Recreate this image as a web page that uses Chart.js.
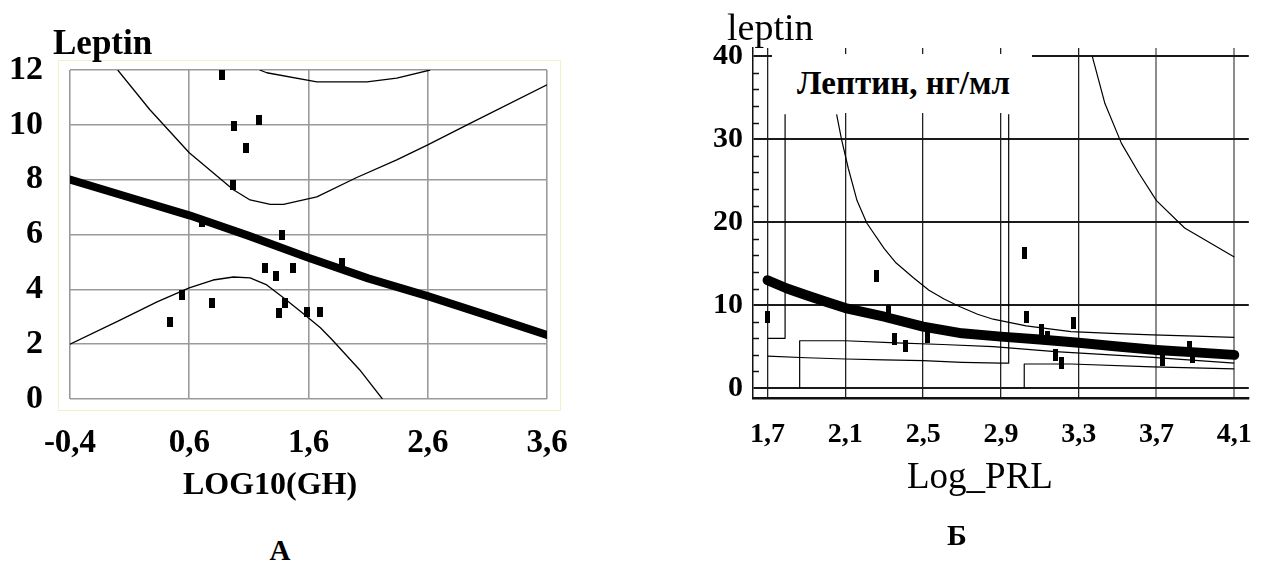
<!DOCTYPE html>
<html>
<head>
<meta charset="utf-8">
<script src="https://cdn.jsdelivr.net/npm/chart.js@4.4.1/dist/chart.umd.min.js"></script>
<style>
body{margin:0;background:#fff;width:1272px;height:562px;overflow:hidden;position:relative;font-family:"Liberation Serif",serif}
canvas{position:absolute;top:0}
#graficaA{left:0}
#graficaB{left:640px}
.txt{position:absolute;line-height:1;white-space:nowrap;color:#000}
.b{font-weight:bold}
#caja{position:absolute;left:772px;top:54px;width:260px;height:59px;background:#fff}
</style>
</head>
<body>
<canvas id="graficaA" width="620" height="520"></canvas>
<canvas id="graficaB" width="632" height="520"></canvas>

<div class="txt b" style="left:53px;top:25px;font-size:35px">Leptin</div>
<div class="txt b" style="left:120px;top:467px;width:300px;text-align:center;font-size:32px">LOG10(GH)</div>
<div class="txt b" style="left:230px;top:536px;width:100px;text-align:center;font-size:29px">А</div>

<div class="txt" style="left:727px;top:8px;font-size:38px">leptin</div>
<div id="caja"></div>
<div class="txt b" style="left:797px;top:67px;font-size:33px">Лептин, нг/мл</div>
<div class="txt" style="left:830px;top:457px;width:300px;text-align:center;font-size:37px">Log_PRL</div>
<div class="txt b" style="left:907px;top:520px;width:100px;text-align:center;font-size:30px">Б</div>

<script>
// ---- panel A: LOG10(GH) ----
var ejeXA = [-0.4, 0.6, 1.6, 2.6, 3.6];
var ejeYA = [0, 2, 4, 6, 8, 10, 12];
var ghX = [0.875, 0.975, 1.185, 1.076, 0.967, 0.707, 0.439, 0.539, 0.791, 1.235, 1.327, 1.378, 1.47, 1.353, 1.403, 1.587, 1.696, 1.881];
var ghLeptina = [11.82, 9.96, 10.18, 9.15, 7.8, 6.46, 2.81, 3.79, 3.5, 4.78, 4.49, 5.98, 4.78, 3.14, 3.5, 3.17, 3.17, 4.96];
var rectaAX = [-0.4, 0.1, 0.6, 1.1, 1.6, 2.1, 2.6, 3.1, 3.6];
var rectaAY = [8.0, 7.35, 6.7, 5.95, 5.15, 4.4, 3.75, 3.05, 2.34];
var superiorAX = [0.0, 0.27, 0.6, 0.97, 1.11, 1.28, 1.39, 1.67, 2.0, 2.34, 2.6, 2.93, 3.6];
var superiorAY = [12.0, 10.55, 8.98, 7.63, 7.26, 7.1, 7.1, 7.37, 8.07, 8.72, 9.27, 10.0, 11.46];
var techoAX = [1.19, 1.25, 1.67, 2.09, 2.34, 2.62];
var techoAY = [12.0, 11.9, 11.57, 11.57, 11.7, 12.0];
var inferiorAX = [-0.4, 0.02, 0.33, 0.6, 0.8, 0.97, 1.11, 1.25, 1.39, 1.55, 1.7, 1.8, 2.03, 2.22];
var inferiorAY = [2.0, 2.88, 3.54, 4.05, 4.34, 4.45, 4.42, 4.16, 3.69, 3.14, 2.6, 2.15, 1.06, 0];

// ---- panel Б: Log_PRL ----
var ejeXB = [1.7, 2.1, 2.5, 2.9, 3.3, 3.7, 4.1];
var ejeYB = [0, 10, 20, 30, 40];
var marcasYB = [2, 4, 6, 8, 12, 14, 16, 18, 22, 24, 26, 28, 32, 34, 36, 38];
var prlX = [1.70, 2.26, 2.32, 2.355, 2.41, 2.52, 3.02, 3.03, 3.11, 3.14, 3.18, 3.21, 3.275, 3.73, 3.87, 3.885];
var prlLeptina = [8.55, 13.5, 9.3, 5.9, 5.06, 6.1, 16.3, 8.6, 7.0, 6.2, 4.0, 3.0, 7.9, 3.4, 5.0, 3.8];
var rectaBX = [1.7, 1.8, 1.9, 2.0, 2.1, 2.3, 2.5, 2.7, 2.9, 3.1, 3.3, 3.5, 3.7, 3.9, 4.1];
var rectaBY = [13.0, 12.0, 11.2, 10.4, 9.65, 8.6, 7.4, 6.6, 6.2, 5.85, 5.45, 5.0, 4.6, 4.3, 4.0];
var curvaBX = [2.055, 2.08, 2.115, 2.16, 2.21, 2.3, 2.36, 2.45, 2.53, 2.61, 2.69, 2.78, 2.86, 3.03, 3.26, 3.5, 3.68, 3.9, 4.1];
var curvaBY = [33, 30, 26.5, 22.6, 19.9, 16.8, 15.1, 13.3, 11.8, 10.7, 9.8, 8.9, 8.3, 7.5, 6.8, 6.55, 6.4, 6.25, 6.1];
var esquinaBX = [3.37, 3.435, 3.52, 3.61, 3.7, 3.845, 4.1];
var esquinaBY = [40, 34.3, 29.5, 25.9, 22.6, 19.3, 15.8];
var escalon1X = [1.7, 1.79, 1.79];
var escalon1Y = [6.0, 6.0, 33];
var escalon2X = [1.7, 1.9, 2.1, 2.3, 2.5, 2.7, 2.9, 2.94, 2.94];
var escalon2Y = [3.85, 3.65, 3.5, 3.4, 3.3, 3.1, 3.0, 3.0, 33];
var escalon3X = [1.865, 1.865, 2.1, 2.36, 2.6, 2.86, 3.18, 3.68, 4.1];
var escalon3Y = [0, 5.7, 5.7, 5.45, 5.25, 5.0, 4.4, 3.7, 3.0];
var escalon4X = [3.02, 3.02, 3.26, 3.68, 4.1];
var escalon4Y = [0, 2.9, 2.9, 2.55, 2.3];


function puntos(xs, ys){
	return xs.map(function(x, i){ return {x: x, y: ys[i]}; });
}

function marca(w, h){
	var c = document.createElement('canvas');
	c.width = w; c.height = h;
	var g = c.getContext('2d');
	g.fillStyle = '#000';
	g.fillRect(0, 0, w, h);
	return c;
}

function coma(v){
	return String(v).replace('.', ',');
}

function linea(xs, ys, ancho){
	return {
		data: puntos(xs, ys),
		showLine: true,
		borderColor: '#000',
		borderWidth: ancho,
		pointRadius: 0,
		tension: 0,
		borderJoinStyle: 'round',
		borderCapStyle: ancho > 3 ? 'round' : 'butt'
	};
}

function fuente(tam){
	return {family: '"Liberation Serif", serif', size: tam, weight: 'bold'};
}

var marcoA = {
	id: 'marcoA',
	beforeDraw: function(chart){
		var ctx = chart.ctx;
		ctx.save();
		ctx.strokeStyle = '#f4f0c8';
		ctx.lineWidth = 1;
		ctx.strokeRect(58.5, 60.5, 502, 350);
		ctx.restore();
	}
};

var marcasB = {
	id: 'marcasB',
	afterDraw: function(chart){
		var ctx = chart.ctx;
		var y = chart.scales.y;
		var izq = chart.chartArea.left;
		ctx.save();
		ctx.strokeStyle = '#111';
		ctx.lineWidth = 1.5;
		marcasYB.forEach(function(v){
			var py = Math.round(y.getPixelForValue(v)) + 0.5;
			ctx.beginPath();
			ctx.moveTo(izq, py);
			ctx.lineTo(izq + 6, py);
			ctx.stroke();
		});
		ctx.restore();
	}
};

var graficaA = new Chart(document.getElementById('graficaA'), {
	type: 'scatter',
	data: {
		datasets: [
			{data: puntos(ghX, ghLeptina), pointStyle: marca(6, 10), pointRadius: 5, showLine: false},
			linea(rectaAX, rectaAY, 8),
			linea(superiorAX, superiorAY, 1.3),
			linea(techoAX, techoAY, 1.3),
			linea(inferiorAX, inferiorAY, 1.3)
		]
	},
	options: {
		animation: false,
		responsive: false,
		events: [],
		layout: {padding: {left: 0, top: 70, right: 73, bottom: 0}},
		plugins: {legend: {display: false}, tooltip: {enabled: false}},
		scales: {
			x: {
				type: 'linear', min: -0.4, max: 3.6,
				afterBuildTicks: function(s){ s.ticks = ejeXA.map(function(v){ return {value: v}; }); },
				afterFit: function(s){ s.height = 121; },
				grid: {color: '#9a9a9a', lineWidth: 1.6, drawTicks: false},
				border: {display: false},
				ticks: {padding: 25, color: '#000', font: fuente(33), callback: coma, maxRotation: 0, autoSkip: false}
			},
			y: {
				type: 'linear', min: 0, max: 12,
				afterBuildTicks: function(s){ s.ticks = ejeYA.map(function(v){ return {value: v}; }); },
				afterFit: function(s){ s.width = 70; },
				grid: {color: '#9a9a9a', lineWidth: 1.6, drawTicks: false},
				border: {display: false},
				ticks: {padding: 27, color: '#000', font: fuente(34), callback: coma, autoSkip: false}
			}
		}
	},
	plugins: [marcoA]
});

var graficaB = new Chart(document.getElementById('graficaB'), {
	type: 'scatter',
	data: {
		datasets: [
			{data: puntos(prlX, prlLeptina), pointStyle: marca(5, 12), pointRadius: 5, showLine: false},
			linea(rectaBX, rectaBY, 10),
			linea(curvaBX, curvaBY, 1.2),
			linea(esquinaBX, esquinaBY, 1.2),
			linea(escalon1X, escalon1Y, 1.2),
			linea(escalon2X, escalon2Y, 1.2),
			linea(escalon3X, escalon3Y, 1.2),
			linea(escalon4X, escalon4Y, 1.2)
		]
	},
	options: {
		animation: false,
		responsive: false,
		events: [],
		layout: {padding: {left: 0, top: 48, right: 9, bottom: 0}},
		plugins: {legend: {display: false}, tooltip: {enabled: false}},
		scales: {
			x: {
				type: 'linear', min: 1.625, max: 4.175,
				afterBuildTicks: function(s){ s.ticks = ejeXB.map(function(v){ return {value: v}; }); },
				afterFit: function(s){ s.height = 122; },
				grid: {
					color: function(c){ return c.tick && c.tick.value >= 3.7 ? '#8c8c8c' : '#222'; },
					lineWidth: function(c){ return c.tick && c.tick.value >= 3.7 ? 2 : 1.3; },
					drawTicks: false
				},
				border: {display: true, color: '#111', width: 2.5},
				ticks: {padding: 20, color: '#000', font: fuente(28), callback: coma, maxRotation: 0, autoSkip: false}
			},
			y: {
				type: 'linear', min: -1.2, max: 41,
				afterBuildTicks: function(s){ s.ticks = ejeYB.map(function(v){ return {value: v}; }); },
				afterFit: function(s){ s.width = 113; },
				grid: {color: '#1a1a1a', lineWidth: 2, drawTicks: false},
				border: {display: true, color: '#111', width: 1.5},
				ticks: {padding: 10, color: '#000', font: fuente(30), callback: coma, autoSkip: false}
			}
		}
	},
	plugins: [marcasB]
});
</script>
</body>
</html>
